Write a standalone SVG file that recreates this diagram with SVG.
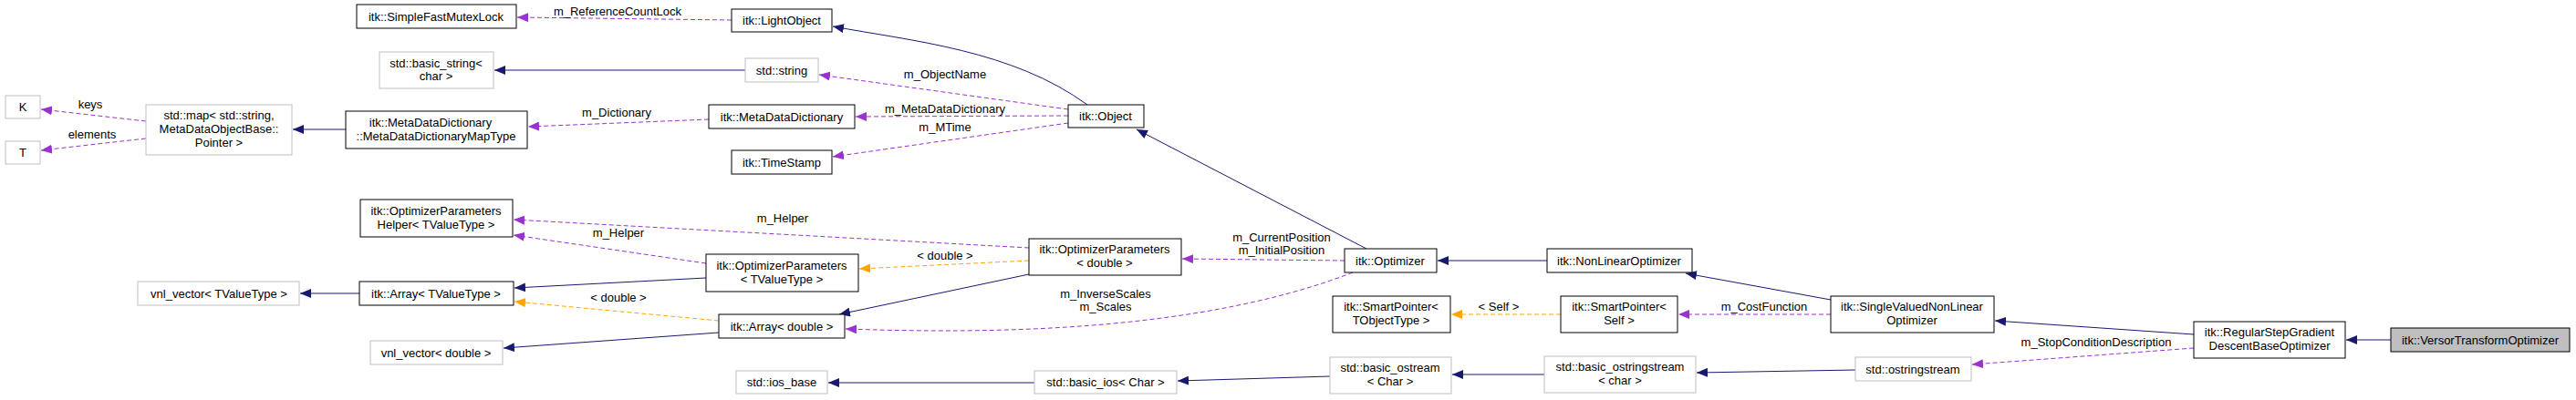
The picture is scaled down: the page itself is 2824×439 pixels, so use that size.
<svg xmlns="http://www.w3.org/2000/svg" width="2824" height="439" viewBox="0 0 2824 439">
<defs>
<marker id="an" viewBox="0 0 12 10" refX="12" refY="5" markerWidth="12" markerHeight="10" markerUnits="userSpaceOnUse" orient="auto"><path d="M0,0L12,5L0,10z" fill="#191970"/></marker>
<marker id="ap" viewBox="0 0 12 10" refX="12" refY="5" markerWidth="12" markerHeight="10" markerUnits="userSpaceOnUse" orient="auto"><path d="M0,0L12,5L0,10z" fill="#9a32cd"/></marker>
<marker id="ao" viewBox="0 0 12 10" refX="12" refY="5" markerWidth="12" markerHeight="10" markerUnits="userSpaceOnUse" orient="auto"><path d="M0,0L12,5L0,10z" fill="#ffa500"/></marker>
</defs>
<style>
text{font-family:"Liberation Sans",Arial,sans-serif;font-size:13px;fill:#000;text-anchor:middle}
.b rect{fill:#fff;stroke:#000;stroke-width:1}
.g rect{fill:#fff;stroke:#bfbfbf;stroke-width:1}
.s rect{fill:#bfbfbf;stroke:#000;stroke-width:1}
.n{fill:none;stroke:#191970;stroke-width:1;marker-end:url(#an)}
.p{fill:none;stroke:#9a32cd;stroke-width:1;stroke-dasharray:5,3;marker-end:url(#ap)}
.o{fill:none;stroke:#ffa500;stroke-width:1;stroke-dasharray:5,3;marker-end:url(#ao)}
</style>
<rect width="2824" height="439" fill="#fff"/>
<g id="connectors">
<path class="n" d="M1192,115 C1110,55 1000,45 913,29"/>
<path class="n" d="M817,77 L542,77"/>
<path class="n" d="M379,142 L321,142"/>
<path class="p" d="M160,133 L45,120"/>
<path class="p" d="M160,152 L45,165"/>
<path class="p" d="M777,131 L579,139"/>
<path class="p" d="M802,22 L567,19"/>
<path class="p" d="M1171,120 L898,82"/>
<path class="p" d="M1171,127 L938,128"/>
<path class="p" d="M1171,135 L913,172"/>
<path class="n" d="M1498,273 L1246,142"/>
<path class="p" d="M1474,286 L1296,284"/>
<path class="p" d="M1483,299 C1300,370 1050,365 927,361"/>
<path class="n" d="M1696,286 L1576,286"/>
<path class="n" d="M2007,329 L1848,300"/>
<path class="p" d="M2007,345 L1840,345"/>
<path class="o" d="M1711,345 L1591,345"/>
<path class="n" d="M2405,367 L2187,352"/>
<path class="n" d="M2621,373 L2572,373"/>
<path class="p" d="M2405,382 L2162,400"/>
<path class="n" d="M2034,406 L1860,409"/>
<path class="n" d="M1693,411 L1592,411"/>
<path class="n" d="M1458,413 L1291,418"/>
<path class="n" d="M1134,420 L908,420"/>
<path class="n" d="M1128,301 L920,345"/>
<path class="o" d="M1128,286 L942,295"/>
<path class="p" d="M1128,272 L563,241"/>
<path class="p" d="M774,289 L563,258"/>
<path class="n" d="M774,305 L564,316"/>
<path class="o" d="M788,352 L564,331"/>
<path class="n" d="M394,322 L329,322"/>
<path class="n" d="M788,365 L552,382"/>
<text x="677" y="17">m_ReferenceCountLock</text>
<text x="1036" y="86">m_ObjectName</text>
<text x="1036" y="124">m_MetaDataDictionary</text>
<text x="1036" y="144">m_MTime</text>
<text x="99" y="119">keys</text>
<text x="101" y="152">elements</text>
<text x="676" y="128">m_Dictionary</text>
<text x="858" y="244">m_Helper</text>
<text x="678" y="260">m_Helper</text>
<text x="1036" y="285">&lt; double &gt;</text>
<text x="678" y="331">&lt; double &gt;</text>
<text x="1212" y="327">m_InverseScales</text>
<text x="1212" y="341">m_Scales</text>
<text x="1405" y="265">m_CurrentPosition</text>
<text x="1405" y="279">m_InitialPosition</text>
<text x="1643" y="341">&lt; Self &gt;</text>
<text x="1934" y="341">m_CostFunction</text>
<text x="2298" y="380">m_StopConditionDescription</text>
</g>
<g id="SimpleFastMutexLock" class="b"><rect x="391" y="5" width="175" height="26"/><text x="478" y="23">itk::SimpleFastMutexLock</text></g>
<g id="basic_string" class="g"><rect x="416" y="57" width="125" height="40"/><text x="478" y="74">std::basic_string&lt;</text><text x="478" y="88">char &gt;</text></g>
<g id="K" class="g"><rect x="6" y="105" width="38" height="25"/><text x="25" y="122">K</text></g>
<g id="T" class="g"><rect x="6" y="155" width="38" height="25"/><text x="25" y="172">T</text></g>
<g id="map" class="g"><rect x="160" y="115" width="160" height="55"/><text x="240" y="131">std::map&lt; std::string,</text><text x="240" y="146">MetaDataObjectBase::</text><text x="240" y="161">Pointer &gt;</text></g>
<g id="MapType" class="b"><rect x="379" y="122" width="199" height="41"/><text x="472" y="139">itk::MetaDataDictionary</text><text x="478" y="154">::MetaDataDictionaryMapType</text></g>
<g id="LightObject" class="b"><rect x="802" y="10" width="110" height="25"/><text x="857" y="27">itk::LightObject</text></g>
<g id="string" class="g"><rect x="817" y="64" width="80" height="26"/><text x="857" y="82">std::string</text></g>
<g id="MetaDataDictionary" class="b"><rect x="777" y="115" width="160" height="26"/><text x="857" y="133">itk::MetaDataDictionary</text></g>
<g id="TimeStamp" class="b"><rect x="802" y="165" width="110" height="26"/><text x="857" y="183">itk::TimeStamp</text></g>
<g id="Object" class="b"><rect x="1171" y="115" width="83" height="25"/><text x="1212" y="132">itk::Object</text></g>
<g id="OptParamsHelper" class="b"><rect x="395" y="219" width="167" height="41"/><text x="478" y="236">itk::OptimizerParameters</text><text x="478" y="251">Helper&lt; TValueType &gt;</text></g>
<g id="ArrayT" class="b"><rect x="394" y="309" width="169" height="26"/><text x="478" y="327">itk::Array&lt; TValueType &gt;</text></g>
<g id="vnlT" class="g"><rect x="151" y="309" width="177" height="26"/><text x="240" y="327">vnl_vector&lt; TValueType &gt;</text></g>
<g id="vnlD" class="g"><rect x="406" y="374" width="145" height="26"/><text x="478" y="392">vnl_vector&lt; double &gt;</text></g>
<g id="OptParamsT" class="b"><rect x="774" y="279" width="167" height="41"/><text x="857" y="296">itk::OptimizerParameters</text><text x="857" y="311">&lt; TValueType &gt;</text></g>
<g id="OptParamsD" class="b"><rect x="1128" y="262" width="167" height="40"/><text x="1211" y="278">itk::OptimizerParameters</text><text x="1211" y="293">&lt; double &gt;</text></g>
<g id="ArrayD" class="b"><rect x="788" y="345" width="138" height="26"/><text x="857" y="363">itk::Array&lt; double &gt;</text></g>
<g id="ios_base" class="g"><rect x="807" y="407" width="100" height="25"/><text x="857" y="424">std::ios_base</text></g>
<g id="basic_ios" class="g"><rect x="1134" y="407" width="156" height="25"/><text x="1212" y="424">std::basic_ios&lt; Char &gt;</text></g>
<g id="Optimizer" class="b"><rect x="1474" y="273" width="101" height="26"/><text x="1524" y="291">itk::Optimizer</text></g>
<g id="NonLinearOptimizer" class="b"><rect x="1696" y="273" width="159" height="26"/><text x="1775" y="291">itk::NonLinearOptimizer</text></g>
<g id="SmartPointerT" class="b"><rect x="1461" y="325" width="129" height="40"/><text x="1525" y="341">itk::SmartPointer&lt;</text><text x="1525" y="356">TObjectType &gt;</text></g>
<g id="SmartPointerSelf" class="b"><rect x="1711" y="325" width="128" height="40"/><text x="1775" y="341">itk::SmartPointer&lt;</text><text x="1775" y="356">Self &gt;</text></g>
<g id="SingleValued" class="b"><rect x="2007" y="325" width="179" height="40"/><text x="2096" y="341">itk::SingleValuedNonLinear</text><text x="2096" y="356">Optimizer</text></g>
<g id="basic_ostream" class="g"><rect x="1458" y="392" width="133" height="40"/><text x="1524" y="408">std::basic_ostream</text><text x="1524" y="423">&lt; Char &gt;</text></g>
<g id="basic_ostringstream" class="g"><rect x="1693" y="391" width="166" height="40"/><text x="1776" y="407">std::basic_ostringstream</text><text x="1776" y="422">&lt; char &gt;</text></g>
<g id="ostringstream" class="g"><rect x="2034" y="392" width="127" height="26"/><text x="2097" y="410">std::ostringstream</text></g>
<g id="Regular" class="b"><rect x="2405" y="353" width="166" height="40"/><text x="2488" y="369">itk::RegularStepGradient</text><text x="2488" y="384">DescentBaseOptimizer</text></g>
<g id="Versor" class="s"><rect x="2621" y="360" width="196" height="26"/><text x="2719" y="378">itk::VersorTransformOptimizer</text></g>
</svg>
